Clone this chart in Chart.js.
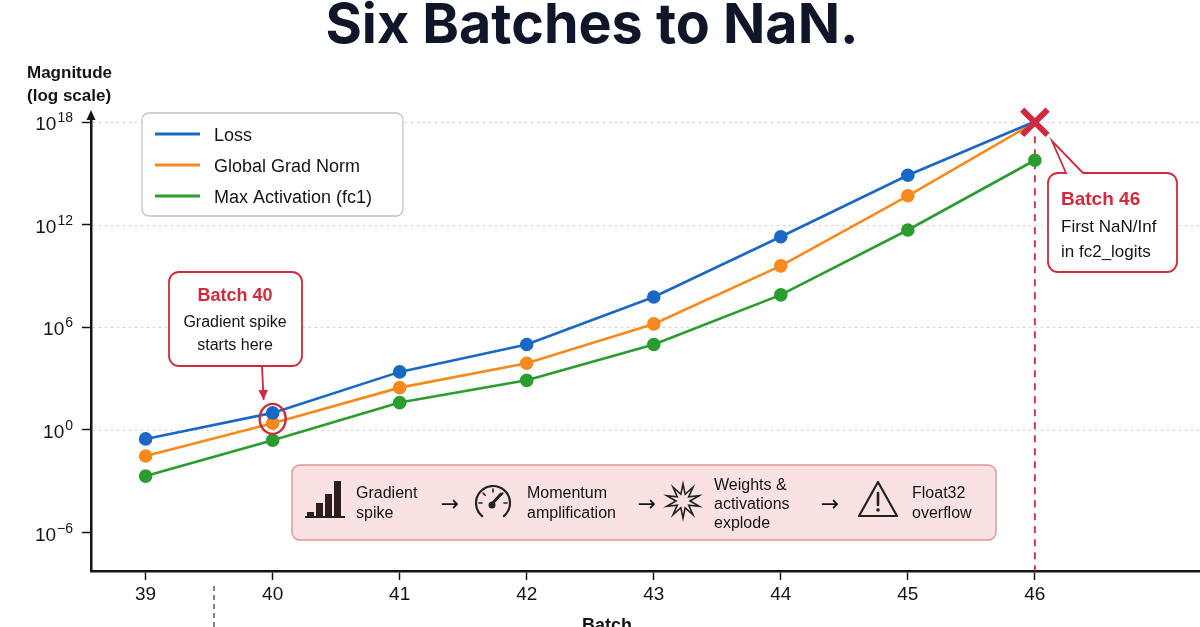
<!DOCTYPE html>
<html>
<head>
<meta charset="utf-8">
<script src="https://cdn.jsdelivr.net/npm/chart.js@4.4.1/dist/chart.umd.min.js"></script>
<style>
  html, body { margin: 0; padding: 0; background: #fff; }
  #wrap { width: 1200px; height: 627px; }
</style>
</head>
<body>
<div id="wrap"><canvas id="chart" width="1200" height="627"></canvas></div>
<script>
// values (magnitudes, log y axis)
const batches = [39, 40, 41, 42, 43, 44, 45, 46];
const loss = [0.3, 10, 2.5e3, 1e5, 6e7, 2e11, 8e14, 1.1e18];
const gradNorm = [0.03, 2.5, 300, 8e3, 1.6e6, 4e9, 5e13, 1e18];
const maxActivation = [2e-3, 0.25, 40, 800, 1e5, 8e7, 5e11, 6e15];
const seriesNames = ['Loss', 'Global Grad Norm', 'Max Activation (fc1)'];
const yTickExponents = [-6, 0, 6, 12, 18];
const nanBatch = 46;
const nanValue = 1e18;
const spikeBatch = 40;
const spikeValue = 10;
const flowSteps = [['Gradient', 'spike'], ['Momentum', 'amplification'], ['Weights &', 'activations', 'explode'], ['Float32', 'overflow']];

const BLUE = '#1a68c4', ORANGE = '#f68a1e', GREEN = '#2b9c2f', RED = '#cf2a3d', INK = '#141414';
const FONT = '"Liberation Sans", Arial, sans-serif';

const toPoints = vals => batches.map((b, i) => ({ x: b, y: vals[i] }));
const radiusUntilNaN = r => batches.map(b => (b === nanBatch ? 0 : r));

function roundRect(ctx, x, y, w, h, r) {
  ctx.beginPath();
  ctx.moveTo(x + r, y);
  ctx.arcTo(x + w, y, x + w, y + h, r);
  ctx.arcTo(x + w, y + h, x, y + h, r);
  ctx.arcTo(x, y + h, x, y, r);
  ctx.arcTo(x, y, x + w, y, r);
  ctx.closePath();
}

function arrowHead(ctx, x1, y1, x2, y2, size) {
  const a = Math.atan2(y2 - y1, x2 - x1);
  ctx.beginPath();
  ctx.moveTo(x2, y2);
  ctx.lineTo(x2 - size * Math.cos(a - 0.45), y2 - size * Math.sin(a - 0.45));
  ctx.lineTo(x2 - size * Math.cos(a + 0.45), y2 - size * Math.sin(a + 0.45));
  ctx.closePath();
  ctx.fill();
}

// icons for the flow strip
function drawBars(ctx, x, base) {
  ctx.fillStyle = '#2a1f1f';
  const hs = [5, 14, 23, 36];
  hs.forEach((h, i) => ctx.fillRect(x + i * 9, base - h, 7, h));
  ctx.fillRect(x - 2, base - 1, 40, 2);
}
function drawGauge(ctx, cx, cy, r) {
  ctx.strokeStyle = '#222'; ctx.fillStyle = '#222'; ctx.lineWidth = 2.2; ctx.lineCap = 'round';
  ctx.beginPath(); ctx.arc(cx, cy, r, 0.72 * Math.PI, 2.28 * Math.PI); ctx.stroke();
  ctx.lineWidth = 1.6;
  [1.0, 1.25, 1.5, 1.75, 2.0].forEach(t => {
    const a = t * Math.PI;
    ctx.beginPath();
    ctx.moveTo(cx + (r - 3) * Math.cos(a), cy + (r - 3) * Math.sin(a));
    ctx.lineTo(cx + (r - 6) * Math.cos(a), cy + (r - 6) * Math.sin(a));
    ctx.stroke();
  });
  ctx.beginPath(); ctx.moveTo(cx - 2, cy + 2); ctx.lineTo(cx + 8, cy - 9); ctx.lineWidth = 3; ctx.stroke();
  ctx.beginPath(); ctx.arc(cx - 1, cy + 2, 3.5, 0, 2 * Math.PI); ctx.fill();
}
function drawStar(ctx, cx, cy, ro, ri, n) {
  ctx.strokeStyle = '#222'; ctx.lineWidth = 1.6; ctx.lineJoin = 'miter';
  ctx.beginPath();
  for (let i = 0; i < n * 2; i++) {
    const r = i % 2 === 0 ? ro : ri;
    const a = -Math.PI / 2 + (i * Math.PI) / n;
    const px = cx + r * Math.cos(a), py = cy + r * Math.sin(a);
    i === 0 ? ctx.moveTo(px, py) : ctx.lineTo(px, py);
  }
  ctx.closePath(); ctx.stroke();
}
function drawWarning(ctx, cx, top, w, h) {
  ctx.strokeStyle = '#222'; ctx.fillStyle = '#222'; ctx.lineWidth = 2.2; ctx.lineJoin = 'round'; ctx.lineCap = 'round';
  ctx.beginPath(); ctx.moveTo(cx, top); ctx.lineTo(cx + w / 2, top + h); ctx.lineTo(cx - w / 2, top + h); ctx.closePath(); ctx.stroke();
  ctx.beginPath(); ctx.moveTo(cx, top + 11); ctx.lineTo(cx, top + 23); ctx.lineWidth = 2.6; ctx.stroke();
  ctx.beginPath(); ctx.arc(cx, top + 28, 1.8, 0, 2 * Math.PI); ctx.fill();
}

const decor = {
  id: 'decor',
  beforeDatasetsDraw(chart) {
    const { ctx, chartArea, scales: { x, y } } = chart;
    ctx.save();
    // dotted grid lines
    ctx.strokeStyle = '#cdcdcd'; ctx.lineWidth = 1; ctx.setLineDash([2, 4]);
    yTickExponents.filter(e => e > -6).forEach(e => {
      const py = Math.round(y.getPixelForValue(10 ** e)) + 0.5;
      ctx.beginPath(); ctx.moveTo(chartArea.left + 2, py); ctx.lineTo(chartArea.right, py); ctx.stroke();
    });
    // red dashed line at the NaN batch
    const nx = x.getPixelForValue(nanBatch);
    ctx.strokeStyle = RED; ctx.lineWidth = 1.8; ctx.setLineDash([7, 6]);
    ctx.beginPath(); ctx.moveTo(nx, y.getPixelForValue(nanValue) + 14); ctx.lineTo(nx, chartArea.bottom); ctx.stroke();
    ctx.restore();
  },
  afterDraw(chart) {
    const { ctx, chartArea, scales: { x, y } } = chart;
    ctx.save();
    ctx.setLineDash([]);

    // title
    ctx.fillStyle = '#0f1629';
    ctx.textAlign = 'center'; ctx.textBaseline = 'alphabetic';
    ctx.font = 'bold 100px Inter, ' + FONT;
    const tw = ctx.measureText('Six Batches to NaN.').width;
    ctx.font = 'bold ' + (100 * 533 / tw).toFixed(1) + 'px Inter, ' + FONT;
    ctx.fillText('Six Batches to NaN.', 592, 43);

    // y axis title
    ctx.fillStyle = INK; ctx.textAlign = 'left';
    ctx.font = 'bold 17px ' + FONT;
    ctx.fillText('Magnitude', 27, 78);
    ctx.fillText('(log scale)', 27, 101);

    // y axis arrow
    ctx.beginPath();
    ctx.moveTo(chartArea.left, chartArea.top - 8);
    ctx.lineTo(chartArea.left - 4.5, chartArea.top + 2);
    ctx.lineTo(chartArea.left + 4.5, chartArea.top + 2);
    ctx.closePath(); ctx.fill();

    // y tick labels with superscripts
    yTickExponents.forEach(e => {
      const py = y.getPixelForValue(10 ** e);
      const exp = String(e).replace('-', '\u2212');
      ctx.font = '19px ' + FONT;
      const w10 = ctx.measureText('10').width;
      ctx.font = '14px ' + FONT;
      const ws = ctx.measureText(exp).width;
      const x0 = 72 - w10 - ws;
      ctx.font = '19px ' + FONT;
      ctx.fillText('10', x0, py + 8);
      ctx.font = '14px ' + FONT;
      ctx.fillText(exp, x0 + w10 + 1, py);
    });

    // x axis title (cut off at the bottom edge)
    ctx.textAlign = 'center';
    ctx.font = 'bold 18px ' + FONT;
    ctx.fillText('Batch', 607, 631);

    // stray dashed marker below the axis
    ctx.strokeStyle = '#333'; ctx.lineWidth = 1.2; ctx.setLineDash([5, 4]);
    ctx.beginPath(); ctx.moveTo(214, 586); ctx.lineTo(214, 627); ctx.stroke();
    ctx.setLineDash([]);

    // legend
    ctx.fillStyle = '#fff'; ctx.strokeStyle = '#c2c2c2'; ctx.lineWidth = 1.3;
    roundRect(ctx, 142, 113, 261, 103, 7); ctx.fill(); ctx.stroke();
    const legendColors = [BLUE, ORANGE, GREEN];
    const rows = [134, 165, 196];
    ctx.textAlign = 'left';
    seriesNames.forEach((name, i) => {
      ctx.strokeStyle = legendColors[i]; ctx.lineWidth = 3;
      ctx.beginPath(); ctx.moveTo(155, rows[i]); ctx.lineTo(200, rows[i]); ctx.stroke();
      ctx.fillStyle = INK; ctx.font = '18px ' + FONT;
      ctx.fillText(name, 214, rows[i] + 7);
    });

    // circle around the batch 40 loss point
    const sx = x.getPixelForValue(spikeBatch), sy = y.getPixelForValue(spikeValue) + 6;
    ctx.strokeStyle = RED; ctx.lineWidth = 2.4;
    ctx.beginPath(); ctx.ellipse(sx, sy, 13, 15, 0, 0, 2 * Math.PI); ctx.stroke();

    // batch 40 callout
    ctx.fillStyle = '#fff'; ctx.strokeStyle = RED; ctx.lineWidth = 1.8;
    roundRect(ctx, 169, 272, 133, 94, 10); ctx.fill(); ctx.stroke();
    ctx.textAlign = 'center';
    ctx.fillStyle = RED; ctx.font = 'bold 18px ' + FONT;
    ctx.fillText('Batch 40', 235, 301);
    ctx.fillStyle = INK; ctx.font = '16px ' + FONT;
    ctx.fillText('Gradient spike', 235, 327);
    ctx.fillText('starts here', 235, 350);
    const ax1 = 262, ay1 = 367, ax2 = sx - 9, ay2 = sy - 19;
    ctx.strokeStyle = RED; ctx.fillStyle = RED; ctx.lineWidth = 1.8;
    ctx.beginPath(); ctx.moveTo(ax1, ay1); ctx.lineTo(ax2, ay2); ctx.stroke();
    arrowHead(ctx, ax1, ay1, ax2, ay2, 11);

    // batch 46 callout with tail
    const bx = 1048, by = 173, bw = 129, bh = 99, r = 10;
    ctx.fillStyle = '#fff'; ctx.strokeStyle = RED; ctx.lineWidth = 1.8;
    ctx.beginPath();
    ctx.moveTo(bx + r, by);
    ctx.lineTo(1066, by);
    ctx.lineTo(1052, 141);
    ctx.lineTo(1083, by);
    ctx.arcTo(bx + bw, by, bx + bw, by + bh, r);
    ctx.arcTo(bx + bw, by + bh, bx, by + bh, r);
    ctx.arcTo(bx, by + bh, bx, by, r);
    ctx.arcTo(bx, by, bx + bw, by, r);
    ctx.closePath(); ctx.fill(); ctx.stroke();
    ctx.textAlign = 'left';
    ctx.fillStyle = RED; ctx.font = 'bold 19px ' + FONT;
    ctx.fillText('Batch 46', 1061, 205);
    ctx.fillStyle = INK; ctx.font = '17px ' + FONT;
    ctx.fillText('First NaN/Inf', 1061, 232);
    ctx.fillText('in fc2_logits', 1061, 257);

    // flow strip
    ctx.fillStyle = '#fbe2e2'; ctx.strokeStyle = '#e19494'; ctx.lineWidth = 1.4;
    roundRect(ctx, 292, 465, 704, 75, 8); ctx.fill(); ctx.stroke();
    drawBars(ctx, 307, 517);
    drawGauge(ctx, 493, 503, 17);
    drawStar(ctx, 683, 501, 17, 7, 10);
    drawWarning(ctx, 878, 482, 38, 34);
    const textX = [356, 527, 714, 912];
    ctx.fillStyle = INK; ctx.font = '16px ' + FONT; ctx.textAlign = 'left';
    flowSteps.forEach((lines, i) => {
      const start = lines.length === 3 ? 490 : 498;
      const gap = lines.length === 3 ? 19 : 20;
      lines.forEach((t, j) => ctx.fillText(t, textX[i], start + j * gap));
    });
    ctx.font = '22px "DejaVu Sans", ' + FONT; ctx.textAlign = 'center';
    [450, 647, 830].forEach(ax => ctx.fillText('\u2192', ax, 511));

    ctx.restore();
  }
};

new Chart(document.getElementById('chart'), {
  type: 'line',
  data: {
    datasets: [
      {
        label: 'NaN', data: [{ x: nanBatch, y: nanValue }], showLine: false,
        pointStyle: 'crossRot', pointRadius: 18, pointBorderWidth: 6,
        borderColor: RED, backgroundColor: RED, clip: false
      },
      {
        label: seriesNames[0], data: toPoints(loss), borderColor: BLUE, backgroundColor: BLUE,
        borderWidth: 2.6, pointRadius: radiusUntilNaN(5.5), clip: false
      },
      {
        label: seriesNames[1], data: toPoints(gradNorm), borderColor: ORANGE, backgroundColor: ORANGE,
        borderWidth: 2.6, pointRadius: radiusUntilNaN(5.5), clip: false
      },
      {
        label: seriesNames[2], data: toPoints(maxActivation), borderColor: GREEN, backgroundColor: GREEN,
        borderWidth: 2.6, pointRadius: 5.5, clip: false
      }
    ]
  },
  options: {
    responsive: false,
    animation: false,
    layout: { autoPadding: false, padding: { top: 118, right: 0, bottom: 0, left: 0 } },
    plugins: { legend: { display: false }, tooltip: { enabled: false } },
    scales: {
      x: {
        type: 'linear', min: 38.57, max: 47.3,
        afterBuildTicks: s => { s.ticks = batches.map(v => ({ value: v })); },
        afterFit: s => { s.height = 56; },
        grid: { drawOnChartArea: false, drawTicks: true, tickLength: 9, tickColor: INK, tickWidth: 1.5 },
        border: { color: INK, width: 2.5 },
        ticks: { color: INK, font: { family: FONT, size: 19 }, padding: 3, maxRotation: 0, callback: v => String(v) }
      },
      y: {
        type: 'logarithmic', min: 10 ** -8.25, max: 10 ** 18.25,
        afterBuildTicks: s => { s.ticks = yTickExponents.map(e => ({ value: 10 ** e })); },
        afterFit: s => { s.width = 91; },
        grid: { drawOnChartArea: false, drawTicks: true, tickLength: 9, tickColor: INK, tickWidth: 1.5 },
        border: { color: INK, width: 2.5 },
        ticks: { display: false }
      }
    }
  },
  plugins: [decor]
});
</script>
</body>
</html>
